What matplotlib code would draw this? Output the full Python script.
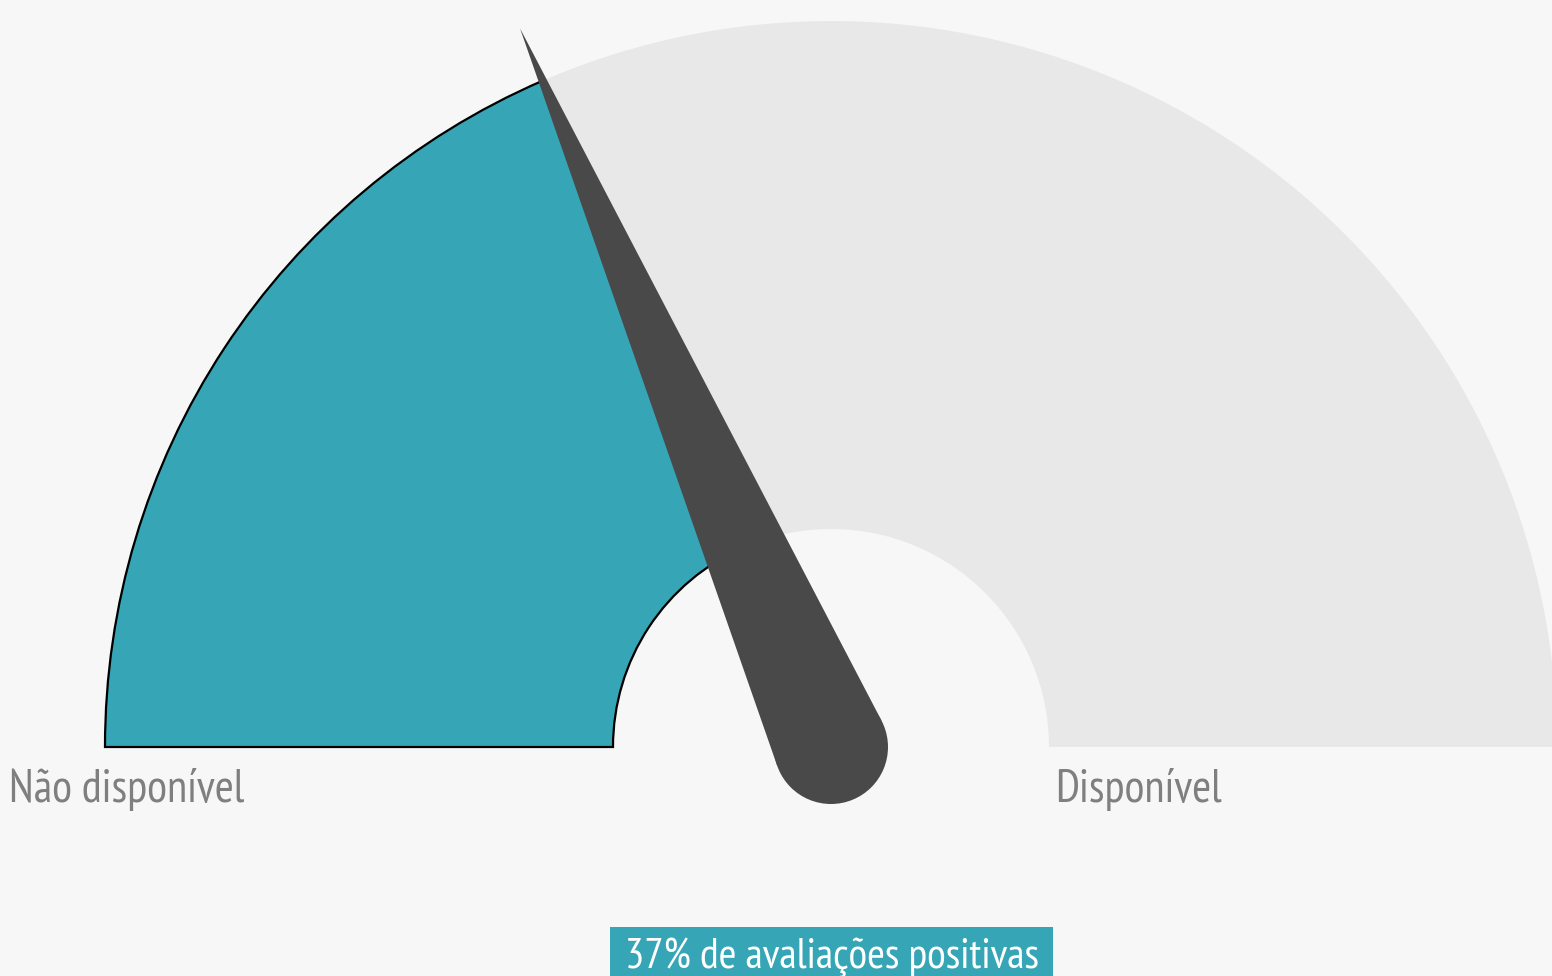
import numpy as np
import matplotlib
matplotlib.use("Agg")
import matplotlib.pyplot as plt
from matplotlib import font_manager as fm
from matplotlib.patches import Wedge, Circle, Polygon, Rectangle

# ---- data ----
categories = ["Não disponível", "Disponível"]
positive_pct = 37
caption = f"{positive_pct}% de avaliações positivas"

# ---- style ----
BG = "#f7f7f7"
TEAL = "#36a6b7"
TRACK = "#e8e8e8"
NEEDLE = "#494949"
TEXT = "#7f7f7f"
available = {f.name for f in fm.fontManager.ttflist}
preferred = [n for n in ["PT Sans Narrow", "Roboto Condensed", "Archivo Narrow",
                         "Liberation Sans Narrow"] if n in available]
FONT = preferred[:1] + ["DejaVu Sans"]

W, H = 1552, 976
fig = plt.figure(figsize=(W / 100, H / 100), dpi=100, facecolor=BG)
ax = fig.add_axes([0, 0, 1, 1])
ax.set_facecolor(BG)
cx, cy = 831, 747
ax.set_xlim(-cx, W - cx)
ax.set_ylim(cy - H, cy)
ax.set_aspect("equal")
ax.axis("off")

R_OUT, R_IN = 726, 218
ang = 180 * (1 - positive_pct / 100)

ax.add_patch(Wedge((0, 0), R_OUT, 0, 180, width=R_OUT - R_IN, facecolor=TRACK, edgecolor="none"))
ax.add_patch(Wedge((0, 0), R_OUT, ang, 180, width=R_OUT - R_IN, facecolor=TEAL,
                   edgecolor="black", linewidth=1.6))

# needle
L, r = 783, 57
th = np.radians(ang)
a = np.arccos(r / L)
tip = (L * np.cos(th), L * np.sin(th))
p1 = (r * np.cos(th + a), r * np.sin(th + a))
p2 = (r * np.cos(th - a), r * np.sin(th - a))
ax.add_patch(Polygon([tip, p1, p2], closed=True, facecolor=NEEDLE, edgecolor="none"))
ax.add_patch(Circle((0, 0), r, facecolor=NEEDLE, edgecolor="none"))

# labels
ax.text(9 - cx, -55, categories[0], ha="left", va="baseline", fontsize=33,
        color=TEXT, family=FONT)
ax.text(1055 - cx, -55, categories[1], ha="left", va="baseline", fontsize=33,
        color=TEXT, family=FONT)

# caption box
ax.add_patch(Rectangle((610 - cx, cy - H - 5), 1053 - 610, 976 - 927 + 5,
                       facecolor=TEAL, edgecolor="none"))
ax.text(1, cy - 968, caption, ha="center", va="baseline", fontsize=31,
        color="white", family=FONT)

fig.savefig("out.png", dpi=100, facecolor=BG)
